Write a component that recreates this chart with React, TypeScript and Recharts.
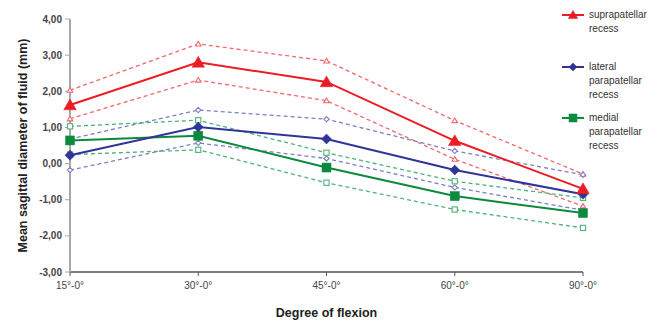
import React from "react";
import { LineChart, Line, XAxis, YAxis } from "recharts";

const categories = ["15°-0°", "30°-0°", "45°-0°", "60°-0°", "90°-0°"];
const supra = [1.62, 2.8, 2.26, 0.63, -0.7];
const supraUpper = [2.03, 3.31, 2.84, 1.19, -0.29];
const supraLower = [1.24, 2.31, 1.74, 0.12, -1.18];
const lateral = [0.23, 1.01, 0.68, -0.18, -0.85];
const lateralUpper = [0.68, 1.48, 1.23, 0.35, -0.31];
const lateralLower = [-0.18, 0.57, 0.14, -0.66, -1.29];
const medial = [0.64, 0.77, -0.11, -0.9, -1.37];
const medialUpper = [1.03, 1.2, 0.3, -0.49, -0.95];
const medialLower = [0.25, 0.38, -0.53, -1.27, -1.78];
const yTicks = [-3, -2, -1, 0, 1, 2, 3, 4];

const data = categories.map((c, i) => ({
  cat: c,
  supra: supra[i],
  supraUpper: supraUpper[i],
  supraLower: supraLower[i],
  lateral: lateral[i],
  lateralUpper: lateralUpper[i],
  lateralLower: lateralLower[i],
  medial: medial[i],
  medialUpper: medialUpper[i],
  medialLower: medialLower[i],
}));

const RED = "#ec1c24";
const BLUE = "#2f3597";
const GREEN = "#0b8a3e";
const RED_L = "#f0686c";
const BLUE_L = "#7c80c2";
const GREEN_L = "#4fb27a";
const FONT = "'Liberation Sans', Arial, sans-serif";

type Shape = "tri" | "dia" | "sq";

function marker(shape: Shape, cx: number, cy: number, r: number, fill: string, stroke: string, sw: number, key?: any) {
  if (shape === "tri") {
    return (
      <polygon key={key} points={`${cx},${cy - r} ${cx + r * 1.05},${cy + r * 0.8} ${cx - r * 1.05},${cy + r * 0.8}`} fill={fill} stroke={stroke} strokeWidth={sw} />
    );
  }
  if (shape === "dia") {
    return (
      <polygon key={key} points={`${cx},${cy - r} ${cx + r},${cy} ${cx},${cy + r} ${cx - r},${cy}`} fill={fill} stroke={stroke} strokeWidth={sw} />
    );
  }
  return <rect key={key} x={cx - r} y={cy - r} width={2 * r} height={2 * r} fill={fill} stroke={stroke} strokeWidth={sw} />;
}

const mainDot = (shape: Shape, color: string, r: number) => (p: any) => {
  if (p.cx == null || p.cy == null) return <g key={p.key} />;
  return marker(shape, p.cx, p.cy, r, color, color, 0.5, p.key);
};
const smallDot = (shape: Shape, color: string) => (p: any) => {
  if (p.cx == null || p.cy == null) return <g key={p.key} />;
  return marker(shape, p.cx, p.cy, 2.6, "#ffffff", color, 1.1, p.key);
};

const fmt = (v: number) => v.toFixed(2).replace(".", ",");

const legendItems: { label: string[]; color: string; shape: Shape; top: number }[] = [
  { label: ["suprapatellar", "recess"], color: RED, shape: "tri", top: 7 },
  { label: ["lateral", "parapatellar", "recess"], color: BLUE, shape: "dia", top: 59 },
  { label: ["medial", "parapatellar", "recess"], color: GREEN, shape: "sq", top: 110 },
];

const LegendBox = () => (
  <div style={{ position: "absolute", left: 561, top: 0, width: 105, height: 160, fontFamily: FONT }}>
    {legendItems.map((it) => (
      <div key={it.label[0]} style={{ position: "absolute", left: 0, top: it.top }}>
        <svg width={26} height={16} style={{ position: "absolute", left: 0, top: 0 }}>
          <line x1={1} y1={8} x2={23} y2={8} stroke={it.color} strokeWidth={2} />
          {marker(it.shape, 12, 8, it.shape === "tri" ? 4.5 : 4, it.color, it.color, 0.5)}
        </svg>
        <div style={{ position: "absolute", left: 28, top: 1, fontSize: 10, lineHeight: "14px", color: "#333", whiteSpace: "nowrap" }}>
          {it.label.map((l) => (
            <div key={l}>{l}</div>
          ))}
        </div>
      </div>
    ))}
  </div>
);

const YTitle = (props: any) => {
  const vb = props.viewBox || {};
  const cy = (vb.y ?? 0) + (vb.height ?? 0) / 2;
  const x = 23;
  return (
    <text x={x} y={cy} transform={`rotate(-90, ${x}, ${cy})`} textAnchor="middle" dominantBaseline="central" fontSize={12.5} fontWeight="bold" fill="#222" fontFamily={FONT}>
      Mean sagittal diameter of fluid (mm)
    </text>
  );
};

const XTitle = (props: any) => {
  const vb = props.viewBox || {};
  const cx = (vb.x ?? 0) + (vb.width ?? 0) / 2;
  return (
    <text x={cx} y={313} textAnchor="middle" dominantBaseline="central" fontSize={12.5} fontWeight="bold" fill="#222" fontFamily={FONT}>
      Degree of flexion
    </text>
  );
};

export default function App() {
  return (
    <div style={{ position: "absolute", left: 0, top: 0, width: 660, height: 323, background: "#fff" }}>
      <LineChart width={660} height={323} data={data} margin={{ top: 19, right: 77, bottom: 21, left: 30 }}>
        <XAxis
          dataKey="cat"
          axisLine={{ stroke: "#555", strokeWidth: 1.5 }}
          tickLine={{ stroke: "#555" }}
          tickSize={4}
          tickMargin={6}
          height={30}
          tick={{ fontSize: 10, fill: "#444", fontFamily: FONT }}
          label={<XTitle />}
        />
        <YAxis
          domain={[-3, 4]}
          ticks={yTicks}
          width={40}
          interval={0}
          tickFormatter={fmt}
          axisLine={{ stroke: "#a8a8a8", strokeWidth: 2 }}
          tickLine={{ stroke: "#a8a8a8" }}
          tickSize={5}
          tickMargin={3}
          tick={{ fontSize: 10, fontWeight: "bold", fill: "#444", fontFamily: FONT }}
          label={<YTitle />}
        />
        <Line dataKey="supraUpper" stroke={RED_L} strokeDasharray="4 3" strokeWidth={1.3} dot={smallDot("tri", RED_L)} isAnimationActive={false} />
        <Line dataKey="supraLower" stroke={RED_L} strokeDasharray="4 3" strokeWidth={1.3} dot={smallDot("tri", RED_L)} isAnimationActive={false} />
        <Line dataKey="lateralUpper" stroke={BLUE_L} strokeDasharray="4 3" strokeWidth={1.3} dot={smallDot("dia", BLUE_L)} isAnimationActive={false} />
        <Line dataKey="lateralLower" stroke={BLUE_L} strokeDasharray="4 3" strokeWidth={1.3} dot={smallDot("dia", BLUE_L)} isAnimationActive={false} />
        <Line dataKey="medialUpper" stroke={GREEN_L} strokeDasharray="4 3" strokeWidth={1.3} dot={smallDot("sq", GREEN_L)} isAnimationActive={false} />
        <Line dataKey="medialLower" stroke={GREEN_L} strokeDasharray="4 3" strokeWidth={1.3} dot={smallDot("sq", GREEN_L)} isAnimationActive={false} />
        <Line dataKey="medial" stroke={GREEN} strokeWidth={2} dot={mainDot("sq", GREEN, 4.5)} isAnimationActive={false} />
        <Line dataKey="lateral" stroke={BLUE} strokeWidth={2} dot={mainDot("dia", BLUE, 5)} isAnimationActive={false} />
        <Line dataKey="supra" stroke={RED} strokeWidth={2} dot={mainDot("tri", RED, 6)} isAnimationActive={false} />
      </LineChart>
      <LegendBox />
    </div>
  );
}
